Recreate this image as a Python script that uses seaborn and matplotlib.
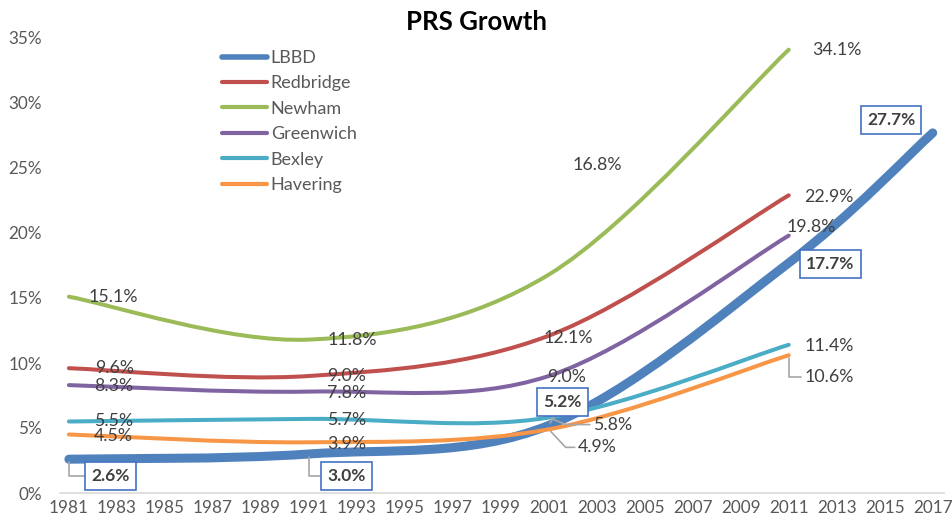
import numpy as np
import seaborn as sns
import matplotlib
matplotlib.use("Agg")
import matplotlib.pyplot as plt
from matplotlib.path import Path
from matplotlib.patches import PathPatch
from matplotlib.lines import Line2D

# data (percent of households in the private rented sector)
years = [1981, 1991, 2001, 2011]
lbbd_years = [1981, 1991, 2001, 2011, 2017]
lbbd = [2.6, 3.0, 5.2, 17.7, 27.7]
redbridge = [9.6, 9.0, 12.1, 22.9]
newham = [15.1, 11.8, 16.8, 34.1]
greenwich = [8.3, 7.8, 9.0, 19.8]
bexley = [5.5, 5.7, 5.8, 11.4]
havering = [4.5, 3.9, 4.9, 10.6]
boroughs = ["LBBD", "Redbridge", "Newham", "Greenwich", "Bexley", "Havering"]
xticks = list(range(1981, 2018, 2))
yticks = [0, 5, 10, 15, 20, 25, 30, 35]

sns.set_style("white")
plt.rcParams["font.family"] = ["Lato", "DejaVu Sans"]

colors = ["#4F81BD", "#C0504D", "#9BBB59", "#8064A2", "#4BACC6", "#F79646"]
widths = [6.5, 2.9, 2.9, 2.9, 2.9, 2.9]
series = [
    (lbbd_years, lbbd),
    (years, redbridge),
    (years, newham),
    (years, greenwich),
    (years, bexley),
    (years, havering),
]

# label offsets in points from each point, plus leader style
# (dx, dy, connection or None)
elbow = "angle,angleA=0,angleB=90,rad=0"
offsets = [
    [(30, -12, elbow), (27, -16, elbow), (10, 17, "arc3"), (30, -1, None), (-30, 9, None)],
    [(33, 0, None), (27, 0, None), (14, -2, None), (29, -1, None)],
    [(32, 0, None), (31, 0, None), (35, 79, None), (35, 0, None)],
    [(32, -1, None), (27, -1, None), (13, -1, None), (16, 6, None)],
    [(32, 0, None), (27, -1, None), (46, -5, "angle,angleA=0,angleB=-22,rad=0"), (29, -1, None)],
    [(32, -1, None), (27, -1, None), (35, -13, "angle,angleA=0,angleB=-47,rad=0"), (29, -16, elbow)],
]


def smooth_path(x, y):
    pts = np.column_stack([x, y]).astype(float)
    n = len(pts)
    verts = [pts[0]]
    codes = [Path.MOVETO]
    for i in range(n - 1):
        p0 = pts[max(i - 1, 0)]
        p1 = pts[i]
        p2 = pts[i + 1]
        p3 = pts[min(i + 2, n - 1)]
        verts += [p1 + (p2 - p0) / 6, p2 - (p3 - p1) / 6, p2]
        codes += [Path.CURVE4] * 3
    return Path(verts, codes)


fig = plt.figure(figsize=(9.52, 5.25), dpi=100)
ax = fig.add_axes([60 / 952, 32 / 525, 884 / 952, 455 / 525])

for k, (xs, ys) in enumerate(series):
    patch = PathPatch(smooth_path(xs, ys), facecolor="none", edgecolor=colors[k],
                      lw=widths[k], capstyle="round", joinstyle="round", zorder=2 if k == 0 else 3)
    ax.add_patch(patch)

    for (x, v), (dx, dy, conn) in zip(zip(xs, ys), offsets[k]):
        txt = f"{v:.1f}%"
        arrow = None
        if conn is not None:
            arrow = dict(arrowstyle="-", color="#A6A6A6", lw=1.2, connectionstyle=conn,
                         shrinkA=0, shrinkB=2)
        if k == 0:
            ax.annotate(txt, xy=(x, v), xytext=(dx, dy), textcoords="offset points",
                        ha="center", va="center", fontsize=12.5, fontweight="bold",
                        color="#404040", zorder=5, arrowprops=arrow,
                        bbox=dict(boxstyle="square,pad=0.35", fc="white", ec="#4472C4", lw=1.2))
        else:
            ax.annotate(txt, xy=(x, v), xytext=(dx, dy), textcoords="offset points",
                        ha="center", va="center", fontsize=12.8, color="#404040",
                        zorder=5, arrowprops=arrow)

ax.set_xlim(1980.63, 2017.47)
ax.set_ylim(0, 35)
ax.set_xticks(xticks)
ax.set_xticklabels([str(t) for t in xticks])
ax.set_yticks(yticks)
ax.set_yticklabels([f"{t}%" for t in yticks])
ax.tick_params(axis="both", length=0, labelsize=12.3, labelcolor="#595959")
ax.tick_params(axis="y", pad=13)
ax.tick_params(axis="x", pad=5)
for side in ["left", "right", "top"]:
    ax.spines[side].set_visible(False)
ax.spines["bottom"].set_color("#D9D9D9")
ax.spines["bottom"].set_linewidth(1.2)
ax.grid(False)

handles = [Line2D([0], [0], color=c, lw=(4 if i == 0 else 3), solid_capstyle="round")
           for i, c in enumerate(colors)]
ax.legend(handles, boroughs, loc="upper left", bbox_to_anchor=(222 / 952, 1 - 50 / 525),
          bbox_transform=fig.transFigure, frameon=False, fontsize=13, borderpad=0,
          borderaxespad=0, handlelength=2.5, handletextpad=0.2, labelspacing=0.52,
          labelcolor="#595959")

fig.text(0.5, 1 - 22 / 525, "PRS Growth", ha="center", va="center", fontsize=18.5,
         fontweight="bold", color="#000000")

fig.savefig("out.png", dpi=100)
